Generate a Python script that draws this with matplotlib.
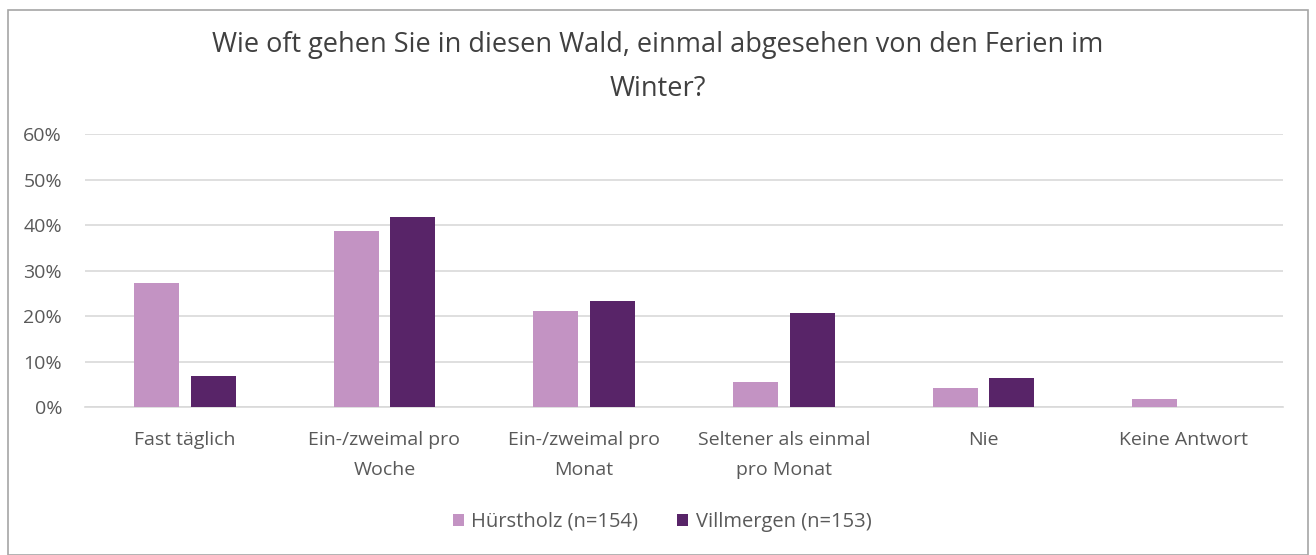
import matplotlib
matplotlib.use("Agg")
import matplotlib.pyplot as plt
from matplotlib.patches import Rectangle
from matplotlib.ticker import PercentFormatter
import numpy as np

categories = ["Fast täglich", "Ein-/zweimal pro\nWoche", "Ein-/zweimal pro\nMonat",
              "Seltener als einmal\npro Monat", "Nie", "Keine Antwort"]
huerstholz = [27.2, 38.8, 21.2, 5.6, 4.2, 1.9]
villmergen = [6.9, 41.8, 23.4, 20.8, 6.4, 0.0]
series_names = ["Hürstholz (n=154)", "Villmergen (n=153)"]
yticks = [0, 10, 20, 30, 40, 50, 60]
title = "Wie oft gehen Sie in diesen Wald, einmal abgesehen von den Ferien im\nWinter?"

plt.rcParams['font.family'] = ['Open Sans', 'DejaVu Sans']

fig = plt.figure(figsize=(13.16, 5.55), dpi=100)
W, H = 1316, 555
ax = fig.add_axes([85 / W, 1 - 407.3 / H, (1283 - 85) / W, (407.3 - 134) / H])

c_light = "#C393C3"
c_dark = "#582468"
x = np.arange(len(categories))
bw = 0.225
gap = 0.06
ax.bar(x - (bw + gap) / 2, huerstholz, width=bw, color=c_light, label=series_names[0], zorder=3)
ax.bar(x + (bw + gap) / 2, villmergen, width=bw, color=c_dark, label=series_names[1], zorder=3)

ax.set_xlim(-0.5, len(categories) - 0.5)
ax.set_ylim(0, 60)
ax.set_yticks(yticks)
ax.yaxis.set_major_formatter(PercentFormatter(decimals=0))
ax.grid(axis='y', color="#D9D9D9", linewidth=1.2, zorder=0)
for s in ["top", "right", "left"]:
    ax.spines[s].set_visible(False)
ax.spines["bottom"].set_color("#D9D9D9")
ax.spines["bottom"].set_linewidth(1.2)
ax.tick_params(axis='both', length=0, colors="#595959", labelsize=14)
ax.tick_params(axis='y', pad=16.5)
ax.tick_params(axis='x', pad=17)
ax.set_xticks(x)
ax.set_xticklabels(categories, linespacing=1.85)

fig.text(0.5, 1 - 67 / H, title, ha="center", va="center", fontsize=19.5,
         color="#404040", linespacing=1.75)

leg = fig.legend(loc="center", bbox_to_anchor=(662 / W, 1 - 522 / H), ncol=2, frameon=False,
                 fontsize=14.5, handlelength=0.55, handleheight=0.55, handletextpad=0.36,
                 columnspacing=1.95)
for t in leg.get_texts():
    t.set_color("#595959")

fig.patches.append(Rectangle((8 / W, 0), 1300 / W, 1 - 10 / H, transform=fig.transFigure,
                             fill=False, edgecolor="#A6A6A6", linewidth=1.2))

fig.savefig("out.png", dpi=100)
